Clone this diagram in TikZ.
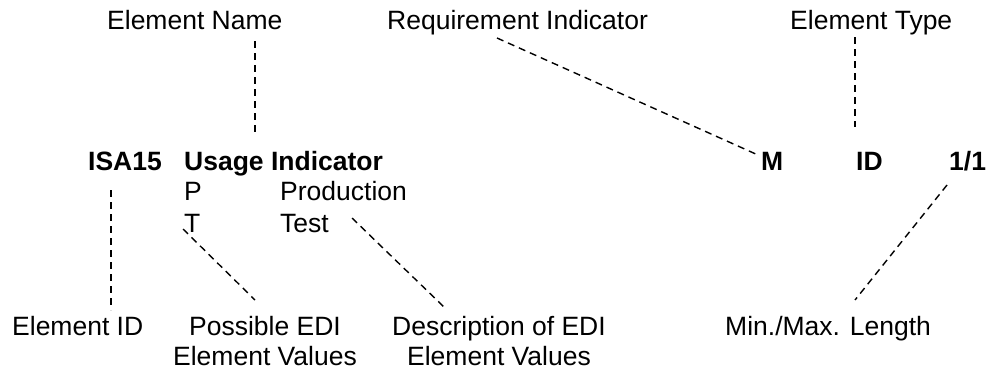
\documentclass[tikz,border=0pt]{standalone}
\usepackage{fontspec}
\setmainfont{Liberation Sans}
\begin{document}
\begin{tikzpicture}[x=1pt,y=-1pt,
  lbl/.style={anchor=base west,inner sep=0pt,font=\fontsize{26.5}{30}\selectfont},
  key/.style={lbl,font=\fontsize{26.5}{30}\selectfont\bfseries},
  twoline/.style={anchor=base,inner sep=0pt,align=center,font=\fontsize{26.5}{30}\selectfont},
  lead/.style={draw=black,line width=1.4pt,dash pattern=on 7pt off 5pt}]
\useasboundingbox (0,0) rectangle (987,381);
% callout captions, top row
\node[lbl] (ename) at (107,29) {Element Name};
\node[lbl] (req) at (387,29) {Requirement Indicator};
\node[lbl] (etype) at (790,29) {Element Type};
% segment line
\node[key] (isa) at (88,170) {ISA15};
\node[key] (usage) at (184,170) {Usage Indicator};
\node[key] (mand) at (761,170) {M};
\node[key] (idt) at (856,170) {ID};
\node[key] (len) at (949,170) {1/1};
\node[lbl] (pcode) at (184,200) {P};
\node[lbl] (pdesc) at (280,200) {Production};
\node[lbl] (tcode) at (184,232) {T};
\node[lbl] (tdesc) at (280,232) {Test};
% callout captions, bottom row (two-line nodes sit on their last baseline)
\node[lbl] (eid) at (12,335) {Element ID};
\node[twoline] (vals) at (265,365) {Possible EDI\\Element Values};
\node[twoline] (descs) at (499,365) {Description of EDI\\Element Values};
\node[lbl] (minmax) at (725,335) {Min./Max. Length};
% leader end points
\coordinate (a1) at (255,41);   \coordinate (a2) at (255,133);
\coordinate (b1) at (497,38);   \coordinate (b2) at (758,155);
\coordinate (c1) at (855,37);   \coordinate (c2) at (855,127);
\coordinate (d1) at (111,190);  \coordinate (d2) at (111,310);
\coordinate (e1) at (183,229);  \coordinate (e2) at (255,300);
\coordinate (f1) at (352,218);  \coordinate (f2) at (445,308);
\coordinate (g1) at (947,185);  \coordinate (g2) at (855,300);
% leaders
\draw[lead] (a1) -- (a2);
\draw[lead] (b1) -- (b2);
\draw[lead] (c1) -- (c2);
\draw[lead] (d1) -- (d2);
\draw[lead] (e1) -- (e2);
\draw[lead] (f1) -- (f2);
\draw[lead] (g1) -- (g2);
\end{tikzpicture}
\end{document}
